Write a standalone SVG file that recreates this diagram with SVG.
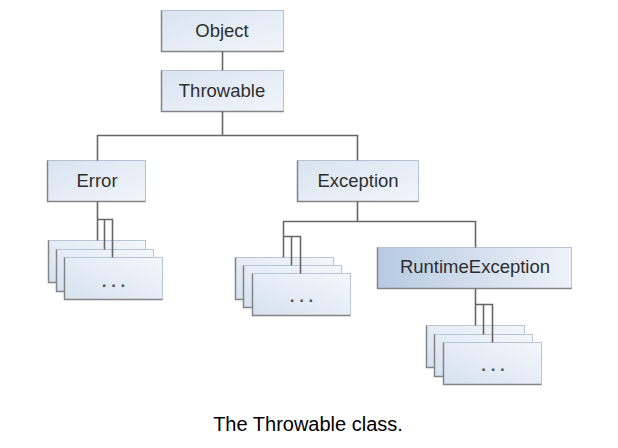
<svg xmlns="http://www.w3.org/2000/svg" width="618" height="448" viewBox="0 0 618 448">
<defs>
<linearGradient id="gBox" x1="0" y1="0" x2="1" y2="1">
<stop offset="0" stop-color="#d9e4f1"/>
<stop offset="1" stop-color="#f1f5fa"/>
</linearGradient>
<linearGradient id="gRt" x1="0" y1="0" x2="1" y2="0">
<stop offset="0" stop-color="#b7cae2"/>
<stop offset="1" stop-color="#eef3f9"/>
</linearGradient>
<linearGradient id="gCard" x1="0" y1="1" x2="1" y2="0">
<stop offset="0" stop-color="#d6e2f0"/>
<stop offset="1" stop-color="#f4f7fb"/>
</linearGradient>
</defs>
<style>
.box{fill:url(#gBox);stroke:#b4c2d3;stroke-width:1}
.rt{fill:url(#gRt);stroke:#b4c2d3;stroke-width:1}
.card{fill:url(#gCard);stroke:#b8c6d6;stroke-width:1}
.sh{fill:none;stroke:#858585;stroke-width:1.5}
.lbl{font-family:"Liberation Sans",Arial,sans-serif;font-size:18.5px;fill:#2e2e2e;text-anchor:middle}
.dots{font-family:"Liberation Sans",Arial,sans-serif;font-size:17px;font-weight:bold;fill:#555;text-anchor:middle}
.cap{font-family:"Liberation Sans",Arial,sans-serif;font-size:20px;fill:#000;text-anchor:middle}
.ln{fill:none;stroke:#666;stroke-width:1.6}
</style>
<rect width="618" height="448" fill="#fff"/>

<g id="object">
<rect class="box" x="161.5" y="10.5" width="122" height="41"/>
<path class="sh" d="M161.5,10.5 V51.5 H283.5"/>
<text class="lbl" x="222" y="37">Object</text>
</g>
<g id="throwable">
<rect class="box" x="161.5" y="70.5" width="122" height="41"/>
<path class="sh" d="M161.5,70.5 V111.5 H283.5"/>
<text class="lbl" x="222" y="97">Throwable</text>
</g>
<g id="error">
<rect class="box" x="47.5" y="160.5" width="98" height="41"/>
<path class="sh" d="M47.5,160.5 V201.5 H145.5"/>
<text class="lbl" x="97" y="187">Error</text>
</g>
<g id="exception">
<rect class="box" x="297.5" y="160.5" width="121" height="41"/>
<path class="sh" d="M297.5,160.5 V201.5 H418.5"/>
<text class="lbl" x="358" y="187">Exception</text>
</g>
<g id="runtimeexception">
<rect class="rt" x="377.5" y="247.5" width="194" height="41"/>
<path class="sh" d="M377.5,247.5 V288.5 H571.5"/>
<text class="lbl" x="475" y="273">RuntimeException</text>
</g>

<g id="error-subclasses">
<rect class="card" x="48.5" y="240.5" width="97" height="42"/>
<path class="sh" d="M48.5,240.5 V282.5 H145.5"/>
<rect class="card" x="56.5" y="249.5" width="97" height="42"/>
<path class="sh" d="M56.5,249.5 V291.5 H153.5"/>
<rect class="card" x="64.5" y="257.5" width="98" height="42"/>
<path class="sh" d="M64.5,257.5 V299.5 H162.5"/>
<text class="dots" x="113.5" y="287">. . .</text>
</g>
<g id="exception-subclasses">
<rect class="card" x="235.5" y="257.5" width="98" height="42"/>
<path class="sh" d="M235.5,257.5 V299.5 H333.5"/>
<rect class="card" x="243.5" y="265.5" width="98" height="42"/>
<path class="sh" d="M243.5,265.5 V307.5 H341.5"/>
<rect class="card" x="252.5" y="273.5" width="98" height="42"/>
<path class="sh" d="M252.5,273.5 V315.5 H350.5"/>
<text class="dots" x="301.5" y="302">. . .</text>
</g>
<g id="runtime-subclasses">
<rect class="card" x="426.5" y="325.5" width="98" height="42"/>
<path class="sh" d="M426.5,325.5 V367.5 H524.5"/>
<rect class="card" x="434.5" y="334.5" width="98" height="42"/>
<path class="sh" d="M434.5,334.5 V376.5 H532.5"/>
<rect class="card" x="443.5" y="342.5" width="98" height="42"/>
<path class="sh" d="M443.5,342.5 V384.5 H541.5"/>
<text class="dots" x="493" y="371">. . .</text>
</g>

<g id="connectors">
<path class="ln" d="M222.5,51.5 V70.5"/>
<path class="ln" d="M222.5,111.5 V135.5"/>
<path class="ln" d="M97.5,160.5 V135.5 H357.5 V160.5"/>
<path class="ln" d="M97.5,201.5 V240.5"/>
<path class="ln" d="M97.5,219.5 H112.5 V257.5"/>
<path class="ln" d="M104.5,219.5 V249.5"/>
<path class="ln" d="M357.5,201.5 V221.5"/>
<path class="ln" d="M283.5,257.5 V221.5 H475.5 V247.5"/>
<path class="ln" d="M283.5,236.5 H300.5 V273.5"/>
<path class="ln" d="M291.5,236.5 V265.5"/>
<path class="ln" d="M475.5,288.5 V325.5"/>
<path class="ln" d="M475.5,304.5 H492.5 V342.5"/>
<path class="ln" d="M483.5,304.5 V334.5"/>
</g>

<text class="cap" x="308" y="431">The Throwable class.</text>
</svg>
